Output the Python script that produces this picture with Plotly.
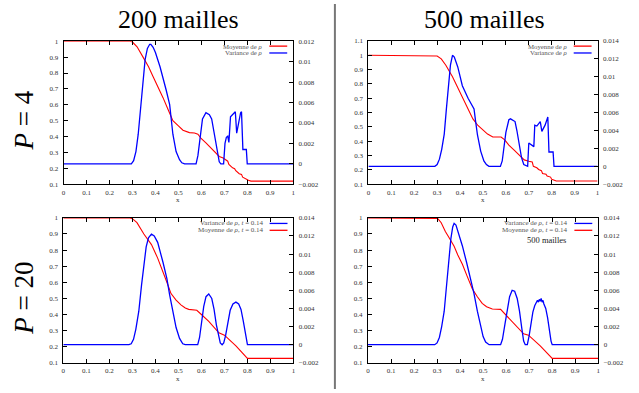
import plotly.graph_objects as go

W, H = 639, 393

# ---------------- data ----------------
# Panel 1 : P = 4, 200 mailles
x_mean_p4_200 = [0, 0.29, 0.30, 0.32, 0.346, 0.37, 0.389, 0.41, 0.433, 0.455, 0.476, 0.50, 0.52, 0.548, 0.570,
                 0.585, 0.599, 0.62, 0.635, 0.66, 0.678, 0.695, 0.707, 0.715, 0.72, 0.736, 0.745, 0.75, 0.765,
                 0.775, 0.78, 0.794, 0.805, 0.816, 1.0]
mean_p4_200 = [1.0, 1.0, 0.995, 0.965, 0.90, 0.84, 0.78, 0.72, 0.645, 0.57, 0.50, 0.468, 0.44, 0.425, 0.423,
               0.415, 0.388, 0.36, 0.337, 0.30, 0.275, 0.265, 0.25, 0.245, 0.225, 0.203, 0.198, 0.185, 0.166,
               0.162, 0.145, 0.131, 0.125, 0.12, 0.12]
x_var_p4_200 = [0, 0.295, 0.305, 0.315, 0.325, 0.335, 0.346, 0.355, 0.365, 0.375, 0.38, 0.39, 0.40, 0.42,
                0.447, 0.462, 0.476, 0.49, 0.505, 0.515, 0.527, 0.577, 0.585, 0.594, 0.605, 0.62, 0.635, 0.645,
                0.655, 0.668, 0.678, 0.685, 0.697, 0.703, 0.709, 0.715, 0.72, 0.727, 0.742, 0.748, 0.754, 0.762,
                0.771, 0.775, 0.781, 0.796, 0.80, 1.0]
var_p4_200 = [0, 0, 0.0003, 0.0012, 0.0029, 0.0055, 0.0084, 0.0102, 0.0113, 0.0117, 0.0117, 0.0114, 0.0109,
              0.0095, 0.0072, 0.0058, 0.0029, 0.0012, 0.0004, 0.0001, 0, 0, 0.0008, 0.0026, 0.0044, 0.0050,
              0.0048, 0.0044, 0.0030, 0.0012, 0.0002, 0, 0, 0.0020, 0.0026, 0.0027, 0.0021, 0.0046, 0.0050,
              0.0051, 0.0030, 0.0040, 0.0050, 0.0051, 0.0014, 0.0014, 0, 0]

# Panel 2 : P = 4, 500 mailles
x_mean_p4_500 = [0, 0.29, 0.30, 0.318, 0.338, 0.367, 0.39, 0.41, 0.435, 0.456, 0.478, 0.50, 0.52, 0.543, 0.565,
                 0.579, 0.595, 0.613, 0.635, 0.657, 0.68, 0.70, 0.715, 0.72, 0.735, 0.743, 0.755, 0.76, 0.775,
                 0.78, 0.795, 0.80, 0.82, 1.0]
mean_p4_500 = [1.0, 1.0, 0.995, 0.975, 0.93, 0.85, 0.775, 0.70, 0.62, 0.556, 0.51, 0.476, 0.45, 0.43, 0.428,
               0.43, 0.41, 0.373, 0.34, 0.305, 0.27, 0.26, 0.255, 0.225, 0.215, 0.203, 0.195, 0.175, 0.17,
               0.157, 0.15, 0.134, 0.123, 0.123]
x_var_p4_500 = [0, 0.29, 0.30, 0.31, 0.32, 0.331, 0.34, 0.348, 0.358, 0.367, 0.375, 0.39, 0.41, 0.435, 0.461,
                0.468, 0.476, 0.49, 0.504, 0.515, 0.526, 0.576, 0.584, 0.60, 0.613, 0.62, 0.64, 0.648, 0.657,
                0.668, 0.678, 0.695, 0.700, 0.712, 0.722, 0.726, 0.735, 0.75, 0.757, 0.771, 0.783, 0.788, 0.806,
                0.81, 1.0]
var_p4_500 = [0, 0, 0.0002, 0.0008, 0.0019, 0.0036, 0.0063, 0.0090, 0.0113, 0.0124, 0.0122, 0.0111, 0.0090,
              0.0076, 0.0064, 0.0050, 0.0035, 0.0017, 0.0006, 0.0002, 0, 0, 0.0006, 0.0038, 0.0052, 0.0053,
              0.0050, 0.0040, 0.0025, 0.0010, 0.0002, 0, 0.0026, 0.0024, 0.0022, 0.0046, 0.0045, 0.0050,
              0.0039, 0.0046, 0.0055, 0.0016, 0.0016, 0, 0]

# Panel 3 : P = 20, 200 mailles
x_mean_p20_200 = [0, 0.29, 0.30, 0.32, 0.35, 0.383, 0.41, 0.433, 0.45, 0.468, 0.49, 0.511, 0.53, 0.545, 0.58,
                  0.60, 0.632, 0.676, 0.70, 0.75, 0.80, 1.0]
mean_p20_200 = [1.0, 1.0, 0.995, 0.97, 0.90, 0.834, 0.75, 0.67, 0.60, 0.53, 0.49, 0.46, 0.44, 0.432, 0.426,
                0.40, 0.357, 0.286, 0.272, 0.205, 0.128, 0.128]
x_var_p20_200 = [0, 0.285, 0.295, 0.305, 0.315, 0.328, 0.34, 0.35, 0.36, 0.37, 0.383, 0.395, 0.41, 0.433, 0.45,
                 0.462, 0.475, 0.49, 0.505, 0.519, 0.53, 0.584, 0.592, 0.60, 0.61, 0.62, 0.632, 0.645, 0.655,
                 0.665, 0.675, 0.682, 0.69, 0.697, 0.705, 0.715, 0.725, 0.737, 0.75, 0.762, 0.772, 0.782, 0.79,
                 0.796, 0.80, 1.0]
var_p20_200 = [0, 0, 0.0001, 0.0006, 0.0017, 0.0037, 0.0066, 0.0091, 0.0108, 0.0118, 0.0122, 0.0120, 0.0113,
               0.0091, 0.0073, 0.0055, 0.0037, 0.0019, 0.0007, 0.0001, 0, 0, 0.0008, 0.0025, 0.0042, 0.0053,
               0.0056, 0.0051, 0.0039, 0.0022, 0.0008, 0.0002, 0, 0.0002, 0.0010, 0.0026, 0.0038, 0.0045,
               0.0047, 0.0045, 0.0039, 0.0026, 0.0012, 0.0003, 0, 0]

# Panel 4 : P = 20, 500 mailles
x_mean_p20_500 = [0, 0.29, 0.302, 0.318, 0.336, 0.355, 0.374, 0.39, 0.41, 0.43, 0.453, 0.475, 0.496, 0.515, 0.54,
                  0.576, 0.626, 0.676, 0.697, 0.748, 0.80, 1.0]
mean_p20_500 = [1.0, 1.0, 0.997, 0.97, 0.915, 0.87, 0.824, 0.77, 0.712, 0.64, 0.56, 0.51, 0.469, 0.448, 0.434,
                0.432, 0.357, 0.28, 0.272, 0.205, 0.128, 0.128]
x_var_p20_500 = [0, 0.29, 0.30, 0.31, 0.32, 0.331, 0.34, 0.35, 0.36, 0.368, 0.374, 0.382, 0.39, 0.41, 0.428,
                 0.446, 0.46, 0.475, 0.49, 0.50, 0.511, 0.526, 0.576, 0.584, 0.595, 0.605, 0.615, 0.626, 0.637,
                 0.648, 0.658, 0.668, 0.676, 0.683, 0.692, 0.70, 0.708, 0.716, 0.724, 0.728, 0.732, 0.736, 0.74,
                 0.744, 0.748, 0.752, 0.756, 0.76, 0.764, 0.772, 0.78, 0.788, 0.795, 0.80, 1.0]
var_p20_500 = [0, 0, 0.0002, 0.0008, 0.0020, 0.0037, 0.0062, 0.0091, 0.0117, 0.0130, 0.0134, 0.0132, 0.0126,
               0.0109, 0.0091, 0.0073, 0.0057, 0.0037, 0.0018, 0.0009, 0.0003, 0, 0, 0.0006, 0.0023, 0.0040,
               0.0053, 0.0060, 0.0059, 0.0051, 0.0037, 0.0018, 0.0004, 0, 0, 0.0010, 0.0025, 0.0036, 0.0043,
               0.0045, 0.0047, 0.0049, 0.0047, 0.0050, 0.0048, 0.0051, 0.0047, 0.0049, 0.0045, 0.0040, 0.0030,
               0.0015, 0.0004, 0, 0]

col_titles = ["200 mailles", "500 mailles"]
row_titles = ["<i>P</i> = 4", "<i>P</i> = 20"]
legend_top = ["Moyenne de <i>ρ</i>", "Variance de <i>ρ</i>"]
legend_bottom = ["Variance de <i>ρ</i>, <i>t</i> = 0.14", "Moyenne de <i>ρ</i>, <i>t</i> = 0.14"]

x_ticks = [0, 0.1, 0.2, 0.3, 0.4, 0.5, 0.6, 0.7, 0.8, 0.9, 1]

panels = [
    dict(xm=x_mean_p4_200, m=mean_p4_200, xv=x_var_p4_200, v=var_p4_200,
         box=(62, 38, 293, 184), yl=(0.1, 1.0), yr=(-0.002, 0.012), legend="top"),
    dict(xm=x_mean_p4_500, m=mean_p4_500, xv=x_var_p4_500, v=var_p4_500,
         box=(368.7, 37.7, 599.3, 184), yl=(0.1, 1.1), yr=(-0.002, 0.014), legend="top"),
    dict(xm=x_mean_p20_200, m=mean_p20_200, xv=x_var_p20_200, v=var_p20_200,
         box=(61.7, 218.3, 293.3, 366.3), yl=(0.1, 1.0), yr=(-0.002, 0.014), legend="bottom"),
    dict(xm=x_mean_p20_500, m=mean_p20_500, xv=x_var_p20_500, v=var_p20_500,
         box=(368.3, 218.3, 600, 366.3), yl=(0.1, 1.0), yr=(-0.002, 0.014), legend="bottom"),
]


def fx(px):
    return px / W


def fy(py):
    return 1 - py / H


RED = "#ff0000"
BLUE = "#0000ff"
SERIF = "'Liberation Serif', 'Times New Roman', 'DejaVu Serif', serif"
tickfont = dict(family=SERIF, size=7, color="#333333")

fig = go.Figure()
layout = dict(width=W, height=H, margin=dict(l=0, r=0, t=0, b=0),
              paper_bgcolor="white", plot_bgcolor="white", showlegend=False,
              font=dict(family=SERIF))
shapes = []
annotations = []

for i, p in enumerate(panels):
    k = i + 1
    xa = "x" if k == 1 else f"x{k}"
    yl_id = 2 * k - 1
    yr_id = 2 * k
    yl = "y" if yl_id == 1 else f"y{yl_id}"
    yr = f"y{yr_id}"
    x0, y0, x1, y1 = p["box"]
    fig.add_trace(go.Scatter(x=p["xm"], y=p["m"], xaxis=xa, yaxis=yl, mode="lines",
                             line=dict(color=RED, width=1.1)))
    fig.add_trace(go.Scatter(x=p["xv"], y=p["v"], xaxis=xa, yaxis=yr, mode="lines",
                             line=dict(color=BLUE, width=1.3)))
    xkey = "xaxis" if k == 1 else f"xaxis{k}"
    ylkey = "yaxis" if yl_id == 1 else f"yaxis{yl_id}"
    yrkey = f"yaxis{yr_id}"
    layout[xkey] = dict(domain=[fx(x0), fx(x1)], anchor=yl, range=[0, 1], tickvals=x_ticks,
                        ticks="inside", ticklen=4, tickcolor="black", showline=True,
                        linecolor="black", linewidth=1, mirror="ticks", showgrid=False,
                        zeroline=False, tickfont=tickfont, ticklabelstandoff=1)
    lo, hi = p["yl"]
    layout[ylkey] = dict(domain=[fy(y1), fy(y0)], anchor=xa, range=[lo, hi], dtick=0.1, tick0=0.1,
                         ticks="inside", ticklen=4, tickcolor="black", showline=True,
                         linecolor="black", linewidth=1, showgrid=False, zeroline=False,
                         tickfont=tickfont, ticklabelstandoff=3)
    rlo, rhi = p["yr"]
    layout[yrkey] = dict(overlaying=yl, anchor=xa, side="right", range=[rlo, rhi], dtick=0.002,
                         tick0=0, ticks="inside", ticklen=4, tickcolor="black", showline=True,
                         linecolor="black", linewidth=1, showgrid=False, zeroline=False,
                         tickfont=tickfont, ticklabelstandoff=3)
    # x axis title
    annotations.append(dict(text="x", x=fx((x0 + x1) / 2), y=fy(y1 + 16), xref="paper", yref="paper",
                            showarrow=False, font=dict(family=SERIF, size=7, color="#333333"),
                            xanchor="center", yanchor="middle"))
    # legend (gnuplot style: text then line sample)
    if p["legend"] == "top":
        labels = legend_top
        colors = [RED, BLUE]
        rows = [43.0, 50.0]
        fsize = 6.8
    else:
        labels = legend_bottom
        colors = [BLUE, RED]
        rows = [224.0, 231.0]
        fsize = 7
    for lab, c, ry in zip(labels, colors, rows):
        annotations.append(dict(text=lab, x=fx(x1 - 29), y=fy(ry), xref="paper", yref="paper",
                                showarrow=False, xanchor="right", yanchor="middle", borderpad=0,
                                font=dict(family=SERIF, size=fsize, color="#555555")))
        shapes.append(dict(type="line", xref="paper", yref="paper", x0=fx(x1 - 24), x1=fx(x1 - 6),
                           y0=fy(ry), y1=fy(ry), line=dict(color=c, width=1.3)))

annotations.append(dict(text="500 mailles", x=fx(548), y=fy(241), xref="paper", yref="paper",
                        showarrow=False, xanchor="center", yanchor="middle", borderpad=0,
                        font=dict(family=SERIF, size=8.5, color="#222222")))

# column and row titles
for t, cx in zip(col_titles, [178, 486]):
    annotations.append(dict(text=t, x=fx(cx), y=fy(16), xref="paper", yref="paper", showarrow=False,
                            xanchor="center", yanchor="middle",
                            font=dict(family=SERIF, size=26, color="black")))
for t, cy in zip(row_titles, [119, 300]):
    annotations.append(dict(text=t, x=fx(22), y=fy(cy), xref="paper", yref="paper", showarrow=False,
                            xanchor="center", yanchor="middle", textangle=-90,
                            font=dict(family=SERIF, size=27, color="black")))

# separator
shapes.append(dict(type="line", xref="paper", yref="paper", x0=fx(335), x1=fx(335), y0=0, y1=1,
                   line=dict(color="#777777", width=2)))

layout["shapes"] = shapes
layout["annotations"] = annotations
fig.update_layout(**layout)
fig.write_html("out.html")
